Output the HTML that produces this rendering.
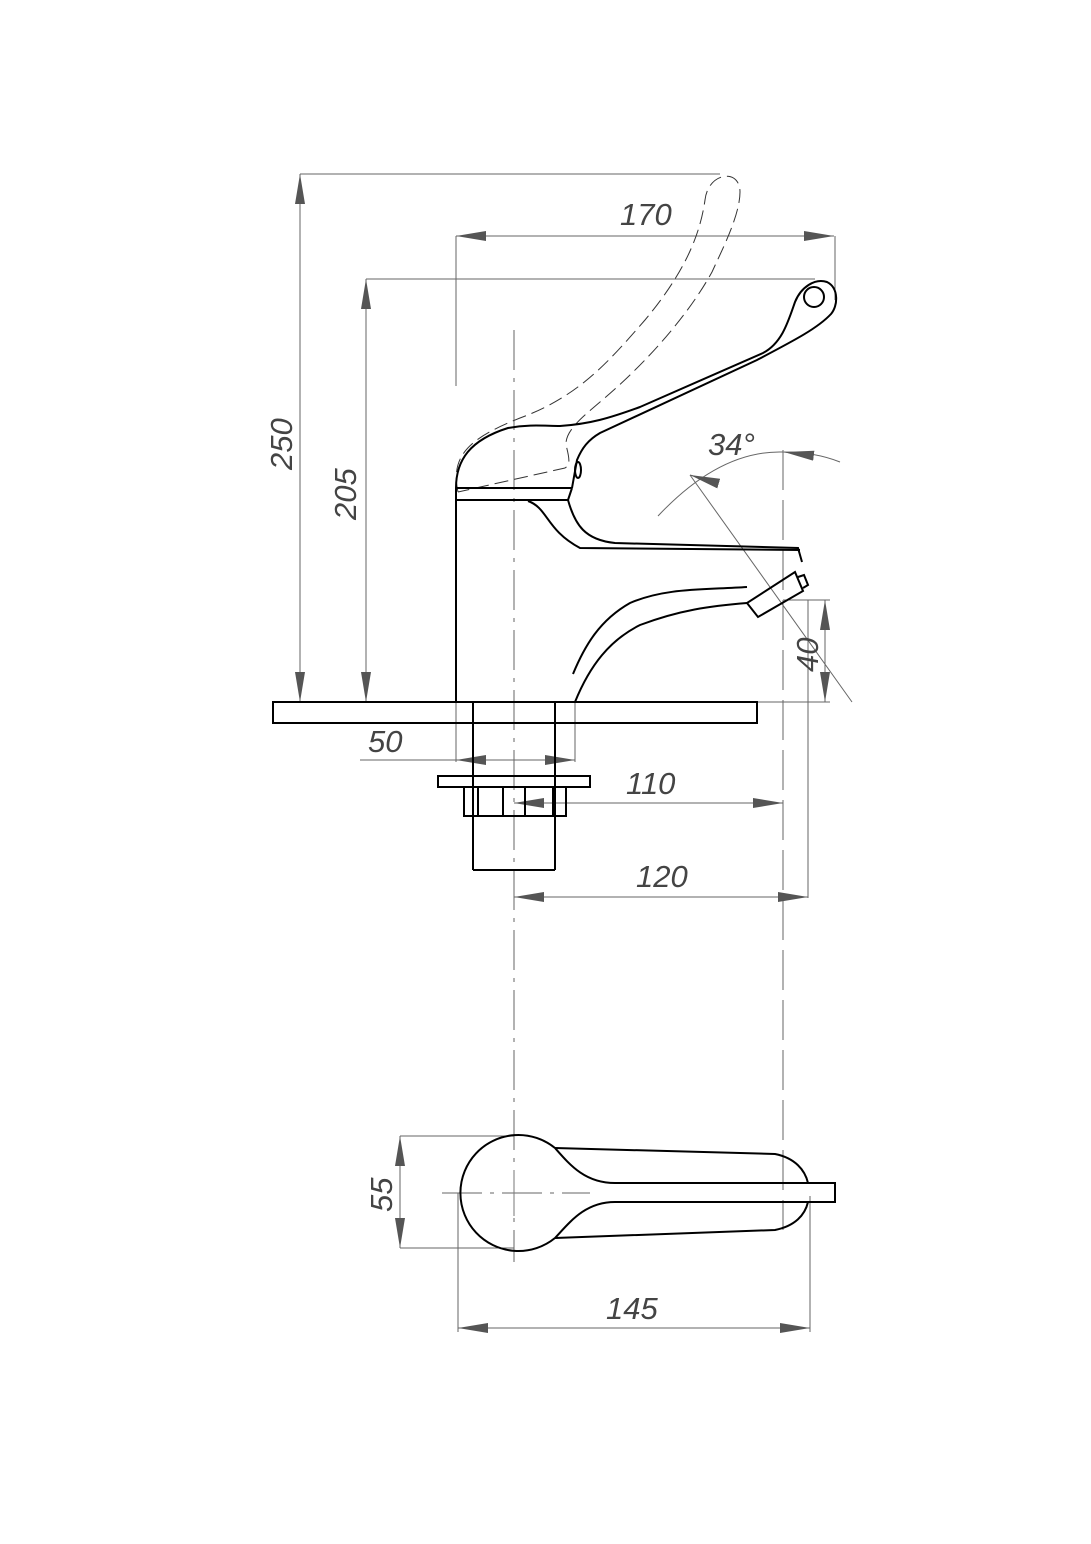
<!DOCTYPE html>
<html><head><meta charset="utf-8"><style>
html,body{margin:0;padding:0;background:#fff;}
svg{display:block;}
text{font-family:"Liberation Sans",sans-serif;font-style:italic;font-size:31px;fill:#444;}
</style></head><body>
<svg width="1091" height="1544" viewBox="0 0 1091 1544" xmlns="http://www.w3.org/2000/svg">
<defs>
<marker id="a" viewBox="0 0 30 10" refX="30" refY="5" markerWidth="30" markerHeight="10" markerUnits="userSpaceOnUse" orient="auto-start-reverse"><path d="M0,0 L30,5 L0,10 Z" fill="#555"/></marker>
</defs>
<g fill="none" stroke="#666" stroke-width="1">
<line x1="514" y1="330" x2="514" y2="1262" stroke-dasharray="40,8,4,8"/>
<line x1="783" y1="450" x2="783" y2="1230" stroke-dasharray="40,10"/>
<line x1="442" y1="1193" x2="590" y2="1193" stroke-dasharray="40,8,4,8"/>
<line x1="300" y1="174" x2="720" y2="174"/>
<line x1="300" y1="174" x2="300" y2="702" marker-start="url(#a)" marker-end="url(#a)"/>
<line x1="366" y1="279" x2="815" y2="279"/>
<line x1="366" y1="279" x2="366" y2="702" marker-start="url(#a)" marker-end="url(#a)"/>
<line x1="456" y1="236" x2="456" y2="386"/>
<line x1="835" y1="236" x2="835" y2="300"/>
<line x1="456" y1="236" x2="834" y2="236" marker-start="url(#a)" marker-end="url(#a)"/>
<path d="M658,516 Q720,450 783,452 Q815,452 840,462"/>
<line x1="690" y1="475" x2="852" y2="702"/>
<path d="M700,478 L690,475" marker-end="url(#a)"/>
<path d="M808,455 L784,452" marker-end="url(#a)"/>
<line x1="783" y1="600" x2="830" y2="600"/>
<line x1="757" y1="702" x2="830" y2="702"/>
<line x1="825" y1="600" x2="825" y2="702" marker-start="url(#a)" marker-end="url(#a)"/>
<line x1="808" y1="600" x2="808" y2="898"/>
<line x1="456" y1="702" x2="456" y2="762"/>
<line x1="575" y1="702" x2="575" y2="762"/>
<line x1="360" y1="760" x2="456" y2="760"/>
<path d="M490,760 L456,760" marker-end="url(#a)"/>
<path d="M490,760 L575,760" marker-end="url(#a)"/>
<line x1="514" y1="803" x2="783" y2="803" marker-start="url(#a)" marker-end="url(#a)"/>
<line x1="514" y1="897" x2="808" y2="897" marker-start="url(#a)" marker-end="url(#a)"/>
<line x1="400" y1="1136" x2="514" y2="1136"/>
<line x1="400" y1="1248" x2="514" y2="1248"/>
<line x1="400" y1="1136" x2="400" y2="1248" marker-start="url(#a)" marker-end="url(#a)"/>
<line x1="458" y1="1193" x2="458" y2="1332"/>
<line x1="810" y1="1196" x2="810" y2="1332"/>
<line x1="458" y1="1328" x2="810" y2="1328" marker-start="url(#a)" marker-end="url(#a)"/>
<path stroke="#333" stroke-dasharray="14,6" d="M458,492 C450,455 470,438 520,418 C580,396 610,360 645,320 C685,272 700,235 705,200 C708,172 740,168 740,192 C740,215 722,250 712,272 C690,312 650,360 600,402 C585,415 565,430 566,445 C570,460 570,465 565,468 L458,492"/>
</g>
<g fill="none" stroke="#000" stroke-width="2">
<line x1="456" y1="488" x2="456" y2="702"/>
<line x1="456" y1="500" x2="568" y2="500"/>
<line x1="456" y1="488" x2="572" y2="488"/>
<line x1="568" y1="500" x2="572" y2="488"/>
<path d="M456,488 C456,460 470,440 508,428 C530,424 545,426 560,426 C590,424 610,418 640,407 L763,353 C782,343 788,322 795,302 C801,287 815,278 827,282 C839,288 838,306 831,314 C818,328 795,340 757,360 L600,433 C588,440 582,448 577,460 L572,488"/>
<circle cx="814" cy="297" r="10"/>
<ellipse cx="578" cy="470" rx="3" ry="8"/>
<path d="M568,500 C575,525 585,540 615,543 L798,548 L802,562"/>
<path d="M528,501 C548,508 546,530 580,548 L800,550"/>
<path d="M573,674 C585,645 600,620 630,603 C665,588 700,590 747,587"/>
<path d="M575,702 C590,665 610,640 640,625 C680,610 710,606 747,603"/>
<path d="M747,603 L758,617 L803,591 L795,572 Z"/>
<path d="M798,577 L804,575 L808,585 L803,588"/>
<rect x="273" y="702" width="484" height="21"/>
<line x1="473" y1="702" x2="473" y2="870"/>
<line x1="555" y1="702" x2="555" y2="870"/>
<line x1="473" y1="870" x2="555" y2="870"/>
<rect x="438" y="776" width="152" height="11"/>
<rect x="464" y="787" width="102" height="29"/>
<line x1="478" y1="787" x2="478" y2="816"/>
<line x1="503" y1="787" x2="503" y2="816"/>
<line x1="525" y1="787" x2="525" y2="816"/>
<line x1="553" y1="787" x2="553" y2="816"/>
<path d="M555,1148 A58,58 0 1,0 555,1238"/>
<path d="M555,1148 C570,1165 585,1183 615,1183 L835,1183 L835,1202 L615,1202 C585,1202 570,1222 555,1238"/>
<path d="M555,1148 L775,1154 C795,1158 805,1170 808,1183"/>
<path d="M555,1238 L775,1230 C795,1226 805,1215 808,1202"/>
</g>
<g fill="none" stroke="#777" stroke-width="1">
<line x1="514" y1="1170" x2="514" y2="1216"/>
</g>
<text x="620" y="225">170</text>
<text x="0" y="0" transform="translate(292,470) rotate(-90)">250</text>
<text x="0" y="0" transform="translate(356,520) rotate(-90)">205</text>
<text x="708" y="455">34°</text>
<text x="0" y="0" transform="translate(818,672) rotate(-90)">40</text>
<text x="368" y="752">50</text>
<text x="626" y="794">110</text>
<text x="636" y="887">120</text>
<text x="0" y="0" transform="translate(392,1212) rotate(-90)">55</text>
<text x="606" y="1319">145</text>
</svg>
</body></html>
